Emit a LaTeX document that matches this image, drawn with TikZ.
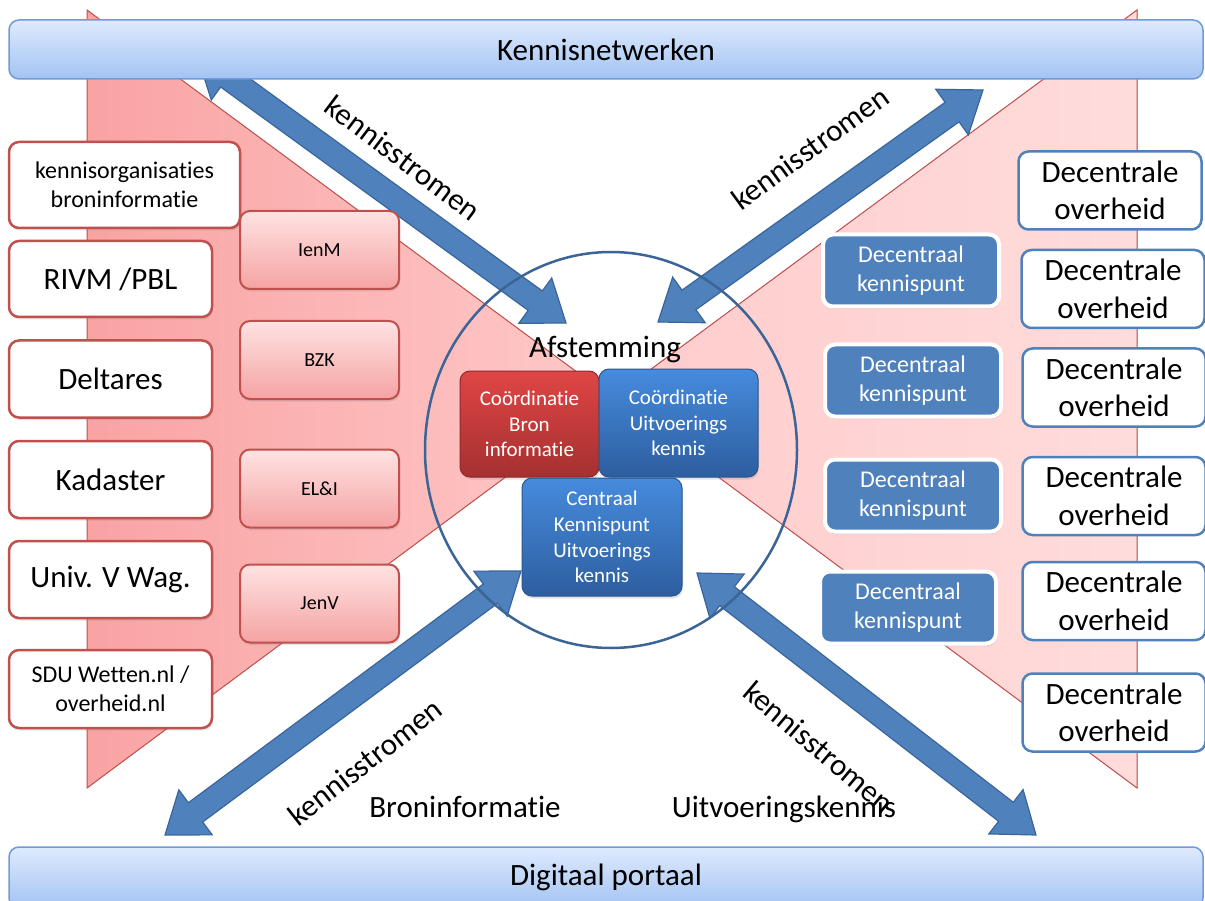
\documentclass[tikz,border=0pt]{standalone}
\usepackage{fontspec}
\setmainfont{Carlito}[Ligatures=CommonOff]
\usetikzlibrary{calc,shadows,shapes.geometric}
\definecolor{pinkline}{HTML}{C0504D}
\definecolor{blueacc}{HTML}{4F81BD}
\definecolor{arrowdraw}{HTML}{3A659A}
\definecolor{circline}{HTML}{3B6497}
\definecolor{pinktop}{HTML}{FFE2E2}
\definecolor{pinkbot}{HTML}{F5A3A3}
\definecolor{redtop}{HTML}{E04545}
\definecolor{redbot}{HTML}{A53030}
\definecolor{redline}{HTML}{8E2A2A}
\definecolor{bluetop}{HTML}{468BDD}
\definecolor{bluebot}{HTML}{2D5E9F}
\definecolor{blueline}{HTML}{2A5790}
\definecolor{bantop}{HTML}{DEEAFD}
\definecolor{banbot}{HTML}{A3C3F3}
\definecolor{banline}{HTML}{6F9BD8}
\definecolor{triLa}{HTML}{F9A3A3}
\definecolor{triLb}{HTML}{FFC9C9}
\definecolor{triRa}{HTML}{FFCBCB}
\definecolor{triRb}{HTML}{FFDCDC}
\tikzset{
  fbig/.style={font=\fontsize{31}{37.5}\selectfont},
  fmid/.style={font=\fontsize{24}{29.5}\selectfont},
  fsmall/.style={font=\fontsize{20}{24}\selectfont},
  fcoord/.style={font=\fontsize{21}{25.6}\selectfont},
  bxbase/.style={rounded corners=10pt, inner sep=0pt, align=center, text=black},
  softshadow/.style={drop shadow={opacity=0.22, shadow xshift=1pt, shadow yshift=-2.5pt}},
  srcbox/.style={bxbase, fill=white, draw=pinkline, line width=2.5pt, softshadow},
  minbox/.style={bxbase, top color=pinktop, bottom color=pinkbot, draw=pinkline, line width=2pt,
    minimum width=159pt, minimum height=78pt, fsmall, softshadow},
  govbox/.style={bxbase, fill=white, draw=blueacc, line width=2.5pt,
    minimum width=183pt, minimum height=78pt, fbig},
  kpbox/.style={bxbase, fill=blueacc, draw=white, line width=4pt,
    minimum width=176pt, minimum height=72pt, fmid, text=white, softshadow},
  redbox/.style={bxbase, top color=redtop, bottom color=redbot, draw=redline, line width=1pt,
    fcoord, text=white, softshadow},
  bluebox/.style={bxbase, top color=bluetop, bottom color=bluebot, draw=blueline, line width=1pt,
    fcoord, text=white, softshadow},
  bannerbox/.style={rounded corners=10pt, top color=bantop, bottom color=banbot, draw=banline,
    line width=1.5pt, minimum width=1194pt, inner sep=0pt, fbig},
  lbl/.style={fbig, inner sep=0pt},
  bigarr/.style={fill=blueacc, draw=arrowdraw, line width=1.2pt, line join=miter},
  triedge/.style={draw=pinkline, line width=1pt},
}
\newcommand\dblarrow[2]{%
  \filldraw[bigarr] (#1)
   -- ($(#1)!38pt!(#2)!28pt!90:(#2)$)
   -- ($(#1)!38pt!(#2)!12pt!90:(#2)$)
   -- ($(#2)!38pt!(#1)!12pt!-90:(#1)$)
   -- ($(#2)!38pt!(#1)!28pt!-90:(#1)$)
   -- (#2)
   -- ($(#2)!38pt!(#1)!28pt!90:(#1)$)
   -- ($(#2)!38pt!(#1)!12pt!90:(#1)$)
   -- ($(#1)!38pt!(#2)!12pt!-90:(#2)$)
   -- ($(#1)!38pt!(#2)!28pt!-90:(#2)$)
   -- cycle;}
\begin{document}
\begin{tikzpicture}[x=1pt,y=-1pt]
\useasboundingbox (0,0) rectangle (1205,901);
\clip (0,0) rectangle (1205,901);
\fill[white] (0,0) rectangle (1205,901);

% bow-tie triangles
\fill[left color=triLa, right color=triLb] (87,10) -- (612,398) -- (87,788) -- cycle;
\draw[triedge] (87,10) -- (612,398) -- (87,788) -- cycle;
\fill[left color=triRa, right color=triRb] (1137,10) -- (612,398) -- (1137,788) -- cycle;
\draw[triedge] (1137,10) -- (612,398) -- (1137,788) -- cycle;

% arrow end points
\coordinate (a1s) at (197,55);
\coordinate (a1e) at (566,323);
\coordinate (a2s) at (983,90);
\coordinate (a2e) at (658,322);
\coordinate (a3s) at (165,835);
\coordinate (a3e) at (521,571);
\coordinate (a4s) at (1036,835);
\coordinate (a4e) at (697,573);
\dblarrow{a1s}{a1e}
\dblarrow{a2s}{a2e}
\dblarrow{a3s}{a3e}
\dblarrow{a4s}{a4e}

% central circle
\node[ellipse, draw=circline, line width=2.5pt, minimum width=372pt, minimum height=396pt, inner sep=0pt] (afst) at (611,450) {};
\node[fbig, inner sep=0pt, anchor=base] (afsttxt) at (605,358) {Afstemming};
\node[redbox, minimum width=139pt, minimum height=106pt] (cbron) at (529.5,424) {Coördinatie\\Bron\\informatie};
\node[bluebox, minimum width=159pt, minimum height=108pt] (cuitv) at (678.5,423) {Coördinatie\\Uitvoerings\\kennis};
\node[bluebox, minimum width=160pt, minimum height=118pt] (ckp) at (602,537) {Centraal\\Kennispunt\\Uitvoerings\\kennis};

% left column
\node[srcbox, minimum width=231pt, minimum height=86pt, fmid] (ko) at (124.5,185) {kennisorganisaties\\broninformatie};
\node[srcbox, minimum width=203pt, minimum height=76pt, fbig] (rivm) at (110.5,279) {RIVM /PBL};
\node[srcbox, minimum width=203pt, minimum height=77pt, fbig] (delt) at (110.5,379) {Deltares};
\node[srcbox, minimum width=203pt, minimum height=77pt, fbig] (kad) at (110.5,479.5) {Kadaster};
\node[srcbox, minimum width=203pt, minimum height=77pt, fbig] (univ) at (110.5,579.5) {Univ. V Wag.};
\node[srcbox, minimum width=203pt, minimum height=78pt, fmid] (sdu) at (110.5,689) {SDU Wetten.nl /\\overheid.nl};

\node[minbox] (ienm) at (319.5,250) {IenM};
\node[minbox] (bzk) at (319.5,360) {BZK};
\node[minbox] (eli) at (319.5,488.5) {EL\&I};
\node[minbox] (jenv) at (319.5,603.5) {JenV};

% right side
\node[kpbox] (kp1) at (911,270.5) {Decentraal\\kennispunt};
\node[kpbox] (kp2) at (913,380.5) {Decentraal\\kennispunt};
\node[kpbox] (kp3) at (913,495.5) {Decentraal\\kennispunt};
\node[kpbox] (kp4) at (908,607.5) {Decentraal\\kennispunt};

\node[govbox] (do1) at (1110,190.5) {Decentrale\\overheid};
\node[govbox] (do2) at (1113,289) {Decentrale\\overheid};
\node[govbox] (do3) at (1114,387.5) {Decentrale\\overheid};
\node[govbox] (do4) at (1114,496) {Decentrale\\overheid};
\node[govbox] (do5) at (1114,601) {Decentrale\\overheid};
\node[govbox] (do6) at (1114,712.5) {Decentrale\\overheid};

% banners
\node[bannerbox, minimum height=59pt] (kn) at (606,49.5) {Kennisnetwerken};
\node[bannerbox, minimum height=61pt] (dp) at (606,877.5) {Digitaal portaal};

% labels
\node[lbl, rotate=-37] (ks1) at (403,158) {kennisstromen};
\node[lbl, rotate=36] (ks2) at (810,148) {kennisstromen};
\node[lbl, rotate=38] (ks3) at (365,762) {kennisstromen};
\node[lbl, rotate=-40] (ks4) at (819,747) {kennisstromen};
\node[lbl, anchor=base] (bron) at (465,817) {Broninformatie};
\node[lbl, anchor=base] (uitv) at (784,817) {Uitvoeringskennis};
\end{tikzpicture}
\end{document}
